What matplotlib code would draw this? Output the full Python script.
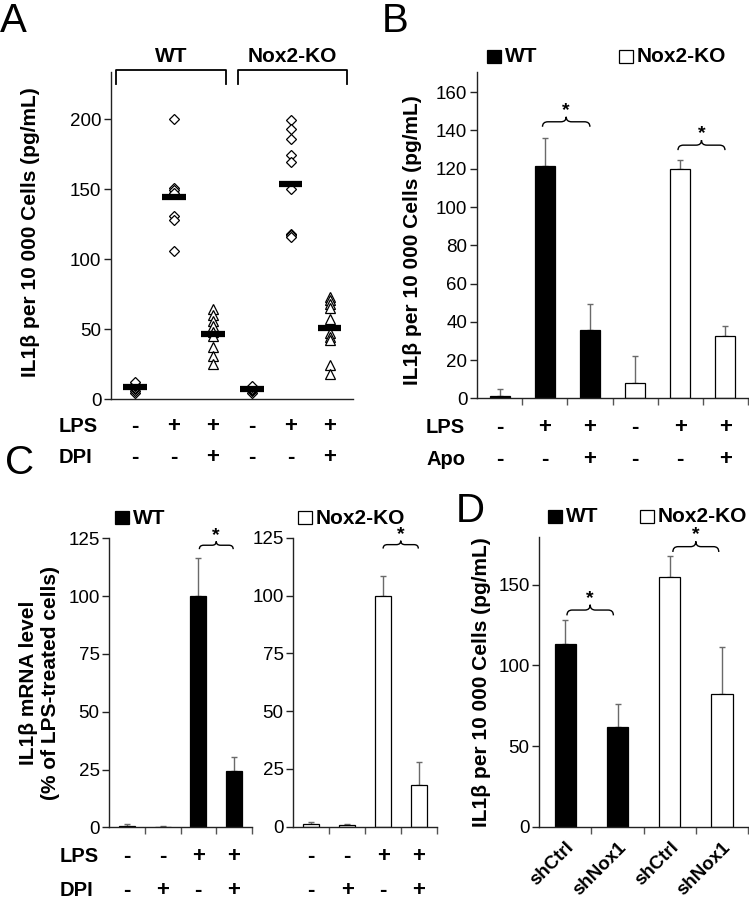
import numpy as np
import matplotlib
matplotlib.use('Agg')
import matplotlib.pyplot as plt
from matplotlib.path import Path
from matplotlib.patches import PathPatch, Rectangle
from matplotlib.transforms import blended_transform_factory

plt.rcParams['font.family'] = ['Liberation Sans', 'DejaVu Sans']

# ---------------- data ----------------
a_groups = ['WT', 'Nox2-KO']
a_lps = ['-', '+', '+', '-', '+', '+']
a_dpi = ['-', '-', '+', '-', '-', '+']
a_wt_ctrl = [4.5, 6, 7, 8, 9, 10, 11, 12.5]
a_wt_lps = [200, 151, 149, 147, 131, 128, 106]
a_wt_lps_dpi = [64, 60, 56, 52, 48, 45, 37, 31, 25]
a_ko_ctrl = [4, 5.5, 6.5, 7.5, 8.5, 9.5]
a_ko_lps = [199, 193, 186, 174, 169, 150, 118, 117, 117, 116]
a_ko_lps_dpi = [73, 71, 68, 65, 57, 47, 44, 42, 24, 18]

b_lps = ['-', '+', '+', '-', '+', '+']
b_apo = ['-', '-', '+', '-', '-', '+']
b_values = [1.5, 121.5, 36, 8, 119.7, 32.5]
b_errors = [3.4, 14.6, 13.6, 14.2, 4.7, 5.3]
b_genotype = ['WT', 'WT', 'WT', 'KO', 'KO', 'KO']

c_lps = ['-', '-', '+', '+']
c_dpi = ['-', '+', '-', '+']
c_wt_values = [0.7, 0.3, 100, 24.4]
c_wt_err = [0.8, 0.3, 16.5, 6]
c_ko_values = [1.3, 0.8, 100, 18]
c_ko_err = [0.6, 0.5, 8.5, 10]

d_labels = ['shCtrl', 'shNox1', 'shCtrl', 'shNox1']
d_values = [113.3, 62, 155, 82.3]
d_err = [14.8, 14, 12.8, 29]
d_genotype = ['WT', 'WT', 'KO', 'KO']

# ---------------- layout helpers ----------------
W, H = 749, 900
fig = plt.figure(figsize=(W / 100, H / 100), dpi=100)
AX_COL = '#222222'
TICK_FS = 13.5
YLAB_FS = 15
ROW_FS = 14.5
SIGN_FS = 16
LEG_FS = 15


def rect(l, t, r, b):
    return [l / W, 1 - b / H, (r - l) / W, (b - t) / H]


def ftext(x, y, s, **kw):
    return fig.text(x / W, 1 - y / H, s, **kw)


def style_axis(ax):
    for s in ['top', 'right']:
        ax.spines[s].set_visible(False)
    for s in ['left', 'bottom']:
        ax.spines[s].set_color(AX_COL)
        ax.spines[s].set_linewidth(1.0)
    ax.tick_params(axis='y', direction='out', length=5, width=1, color=AX_COL,
                   labelsize=TICK_FS, pad=2)
    ax.tick_params(axis='x', which='major', length=0, labelbottom=False)
    ax.tick_params(axis='x', which='minor', direction='out', length=5, width=1,
                   color='#555555')
    ax.set_facecolor('none')


def brace(ax, x1, x2, y0, h, dx):
    xm = (x1 + x2) / 2
    verts = [(x1, y0 - h), (x1, y0), (x1 + dx, y0),
             (xm - dx, y0), (xm, y0), (xm, y0 + h),
             (xm, y0), (xm + dx, y0),
             (x2 - dx, y0), (x2, y0), (x2, y0 - h)]
    codes = [Path.MOVETO, Path.CURVE3, Path.CURVE3,
             Path.LINETO, Path.CURVE3, Path.CURVE3,
             Path.CURVE3, Path.CURVE3,
             Path.LINETO, Path.CURVE3, Path.CURVE3]
    ax.add_patch(PathPatch(Path(verts, codes), fill=False, lw=1.0,
                           edgecolor='black', clip_on=False))


def star(ax, x, y):
    ax.text(x, y, '*', ha='center', va='center', fontsize=14,
            fontweight='bold', clip_on=False)


def row_signs(ax, signs, ypix):
    tr = blended_transform_factory(ax.transData, fig.transFigure)
    for i, s in enumerate(signs):
        ax.text(i, 1 - ypix / H, s, transform=tr, ha='center', va='center',
                fontsize=SIGN_FS, fontweight='bold')


def bars(ax, values, errs, genos, width):
    x = np.arange(len(values))
    colors = ['black' if g == 'WT' else 'white' for g in genos]
    ax.bar(x, values, width=width, color=colors, edgecolor='black', lw=0.9,
           zorder=2)
    ax.errorbar(x, values, yerr=[np.zeros(len(errs)), errs], fmt='none',
                ecolor='#6a6a6a', elinewidth=1.0, capsize=2.5, capthick=1.0,
                zorder=1)
    ax.set_xlim(-0.5, len(values) - 0.5)
    ax.set_xticks(x)
    ax.set_xticks(np.arange(len(values)) + 0.5, minor=True)


def legend_square(x, y, filled, label):
    fig.patches.append(Rectangle((x / W, 1 - (y + 13) / H), 14 / W, 13 / H,
                                 transform=fig.transFigure,
                                 facecolor='black' if filled else 'white',
                                 edgecolor='black', lw=0.9))
    ftext(x + 18, y + 7, label, ha='left', va='center', fontsize=LEG_FS,
          fontweight='bold')


# ---------------- Panel A ----------------
axA = fig.add_axes(rect(111, 72, 353, 399))
style_axis(axA)
axA.set_ylim(0, 233.6)
axA.set_xlim(-0.62, 5.6)
axA.set_yticks([0, 50, 100, 150, 200])
axA.set_xticks([])
a_sets = [a_wt_ctrl, a_wt_lps, a_wt_lps_dpi, a_ko_ctrl, a_ko_lps, a_ko_lps_dpi]
a_markers = ['D', 'D', '^', 'D', 'D', '^']
for i, (vals, m) in enumerate(zip(a_sets, a_markers)):
    ms = 5 if m == 'D' else 6.5
    axA.plot(np.full(len(vals), i), vals, linestyle='none', marker=m,
             markersize=ms, markerfacecolor='white', markeredgecolor='black',
             markeredgewidth=0.9, zorder=2, clip_on=False)
    axA.hlines(np.mean(vals), i - 0.3, i + 0.3, colors='black', lw=4.5, zorder=3)
row_signs(axA, a_lps, 427)
row_signs(axA, a_dpi, 458)
ftext(59, 427, 'LPS', ha='left', va='center', fontsize=ROW_FS, fontweight='bold')
ftext(59, 458, 'DPI', ha='left', va='center', fontsize=ROW_FS, fontweight='bold')
# group brackets
for (x1, x2), g in zip([(116, 226), (238, 347)], a_groups):
    fig.lines.append(plt.Line2D([x1 / W, x1 / W, x2 / W, x2 / W],
                                [1 - 84 / H, 1 - 70 / H, 1 - 70 / H, 1 - 84 / H],
                                transform=fig.transFigure, color='black',
                                lw=1.3))
    ftext((x1 + x2) / 2, 57, g, ha='center', va='center', fontsize=LEG_FS,
          fontweight='bold')
ftext(31, 232, 'IL1β per 10 000 Cells (pg/mL)', rotation=90, ha='center',
      va='center', fontsize=YLAB_FS, fontweight='bold')
ftext(0, 2, 'A', ha='left', va='top', fontsize=29)

# ---------------- Panel B ----------------
axB = fig.add_axes(rect(477, 72, 748, 398.5))
style_axis(axB)
bars(axB, b_values, b_errors, b_genotype, 0.44)
axB.set_ylim(0, 170.5)
axB.set_yticks(np.arange(0, 161, 20))
brace(axB, 0.95, 2.0, 144.5, 2.6, 0.12)
star(axB, 1.475, 150.5)
brace(axB, 3.95, 4.99, 132.3, 2.6, 0.12)
star(axB, 4.47, 138.3)
row_signs(axB, b_lps, 427.5)
row_signs(axB, b_apo, 460)
ftext(426, 427.5, 'LPS', ha='left', va='center', fontsize=ROW_FS, fontweight='bold')
ftext(426, 460, 'Apo', ha='left', va='center', fontsize=ROW_FS, fontweight='bold')
legend_square(487, 50, True, 'WT')
legend_square(619, 50, False, 'Nox2-KO')
ftext(413, 240, 'IL1β per 10 000 Cells (pg/mL)', rotation=90, ha='center',
      va='center', fontsize=YLAB_FS, fontweight='bold')
ftext(382, 2, 'B', ha='left', va='top', fontsize=29)

# ---------------- Panel C ----------------
axC1 = fig.add_axes(rect(109.3, 538.3, 251.7, 827.3))
style_axis(axC1)
bars(axC1, c_wt_values, c_wt_err, ['WT'] * 4, 0.44)
axC1.set_ylim(0, 125)
axC1.set_yticks(np.arange(0, 126, 25))
brace(axC1, 2.03, 2.98, 122.0, 1.7, 0.12)
star(axC1, 2.5, 126.3)
row_signs(axC1, c_lps, 857)
row_signs(axC1, c_dpi, 890)

axC2 = fig.add_axes(rect(293.3, 537.7, 437, 826.7))
style_axis(axC2)
bars(axC2, c_ko_values, c_ko_err, ['KO'] * 4, 0.44)
axC2.set_ylim(0, 125)
axC2.set_yticks(np.arange(0, 126, 25))
brace(axC2, 2.0, 2.98, 122.0, 1.7, 0.12)
star(axC2, 2.49, 126.3)
row_signs(axC2, c_lps, 857)
row_signs(axC2, c_dpi, 890)

ftext(60, 857, 'LPS', ha='left', va='center', fontsize=ROW_FS, fontweight='bold')
ftext(60, 890, 'DPI', ha='left', va='center', fontsize=ROW_FS, fontweight='bold')
legend_square(115, 511, True, 'WT')
legend_square(298, 511, False, 'Nox2-KO')
ftext(40, 683, 'IL1β mRNA level\n(% of LPS-treated cells)', rotation=90,
      ha='center', va='center', fontsize=YLAB_FS, fontweight='bold',
      linespacing=1.2, multialignment='center')
ftext(5, 444, 'C', ha='left', va='top', fontsize=29)

# ---------------- Panel D ----------------
axD = fig.add_axes(rect(539.3, 537.3, 748, 826.7))
style_axis(axD)
bars(axD, d_values, d_err, d_genotype, 0.41)
axD.set_ylim(0, 179.4)
axD.set_yticks([0, 50, 100, 150])
brace(axD, 0.03, 0.92, 134.3, 3.3, 0.1)
star(axD, 0.475, 141.5)
brace(axD, 2.06, 2.94, 173.6, 3.3, 0.1)
star(axD, 2.5, 181)
for i, lab in enumerate(d_labels):
    tr = blended_transform_factory(axD.transData, axD.transAxes)
    axD.text(i + 0.12, -0.062, lab, transform=tr, rotation=45,
             rotation_mode='anchor', ha='right', va='center', fontsize=13.5,
             fontweight='bold')
legend_square(548, 510, True, 'WT')
legend_square(640, 510, False, 'Nox2-KO')
ftext(481, 682, 'IL1β per 10 000 Cells (pg/mL)', rotation=90, ha='center',
      va='center', fontsize=YLAB_FS, fontweight='bold')
ftext(456, 492, 'D', ha='left', va='top', fontsize=29)

fig.savefig('out.png', dpi=100)
